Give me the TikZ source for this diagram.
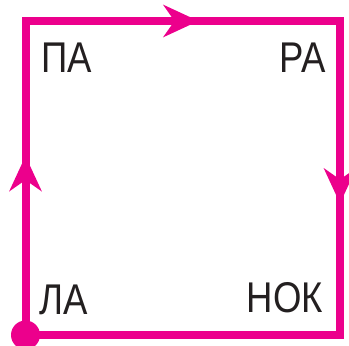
\documentclass[tikz,border=0pt]{standalone}
\usepackage{fontspec}
\setmainfont{Liberation Sans}
\newfontfamily\syllfont[FakeStretch=0.85]{Liberation Sans}
\usetikzlibrary{arrows.meta}
\usetikzlibrary{decorations.markings}
\definecolor{loopmag}{RGB}{236,0,140}
\definecolor{syllgray}{RGB}{35,31,32}
\tikzset{
	syll/.style={inner sep=0pt, text=syllgray, font=\syllfont\fontsize{43}{43}\selectfont},
	looptip/.tip={Stealth[length=35pt, width=32pt, inset=11pt]},
}

\begin{document}
\begin{tikzpicture}[x=1pt, y=1pt]
	\useasboundingbox (0,0) rectangle (349,346);
	% Corners
	\coordinate (sw) at (25.5,11);
	\coordinate (nw) at (25.5,325);
	\coordinate (ne) at (340,325);
	\coordinate (se) at (340,11);
	
	% Syllables
	\node [syll, anchor=base west] at (41,273) (pa) {ПА};
	\node [syll, anchor=base east] at (326,273) (ra) {РА};
	\node [syll, anchor=base west] at (39,31) (la) {ЛА};
	\node [syll, anchor=base east] at (323,33) (nok) {НОК};
	
	% Loop
	\draw [loopmag, line width=8pt, line join=miter,
		postaction={decorate},
		decoration={markings,
			mark=at position 179pt with {\arrow[loopmag]{looptip}},
			mark=at position 487pt with {\arrow[loopmag]{looptip}},
			mark=at position 811pt with {\arrow[loopmag]{looptip}}}]
		(sw) -- (nw) -- (ne) -- (se) -- cycle;
	\fill [loopmag] (sw) circle (14.5pt);
\end{tikzpicture}
\end{document}
